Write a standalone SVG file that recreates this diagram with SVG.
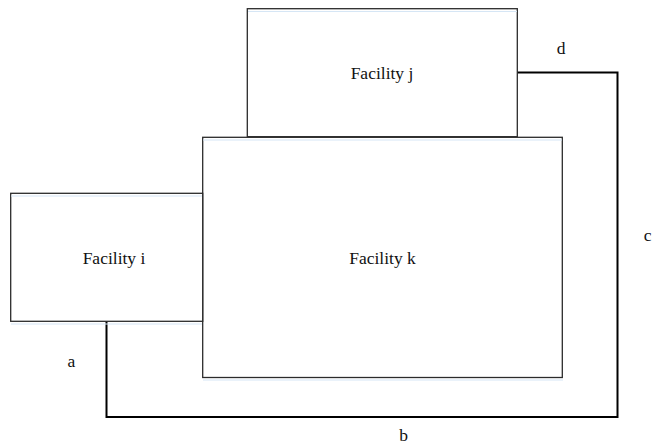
<svg xmlns="http://www.w3.org/2000/svg" width="653" height="444" viewBox="0 0 653 444">
<style>
.box{fill:#fff;stroke:#2b2b2b;stroke-width:1.3}
.hl{stroke:#d6e6f5;stroke-width:1.2;fill:none}
.lbl{font-family:"Liberation Serif","Times New Roman",serif;font-size:17.5px;fill:#111;text-anchor:middle}
.edge{fill:none;stroke:#000;stroke-width:2;stroke-linejoin:miter}
</style>
<rect width="653" height="444" fill="#fff"/>
<g id="connectors">
<polyline class="edge" points="106.5,321 106.5,417 617.5,417 617.5,72.5 517,72.5"/>
</g>
<g id="facility-j">
<rect class="box" x="247.3" y="8.7" width="270" height="128"/>
<line class="hl" x1="248" y1="11.5" x2="517" y2="11.5"/>
<text class="lbl" x="382" y="78.5">Facility j</text>
</g>
<g id="facility-k">
<rect class="box" x="202.7" y="137.3" width="359.6" height="240.2"/>
<line class="hl" x1="203" y1="140" x2="562" y2="140"/>
<line class="hl" x1="203" y1="380" x2="563" y2="380"/>
<text class="lbl" x="382.5" y="263.5">Facility k</text>
</g>
<g id="facility-i">
<rect class="box" x="10.7" y="193.3" width="192" height="128"/>
<line class="hl" x1="11" y1="196" x2="202" y2="196"/>
<line class="hl" x1="11" y1="324" x2="202" y2="324"/>
<text class="lbl" x="114" y="263.5">Facility i</text>
</g>
<g id="labels">
<text class="lbl" x="561" y="53.5">d</text>
<text class="lbl" x="651.5" y="240.5" style="text-anchor:end">c</text>
<text class="lbl" x="71.5" y="367">a</text>
<text class="lbl" x="403.5" y="441">b</text>
</g>
</svg>
